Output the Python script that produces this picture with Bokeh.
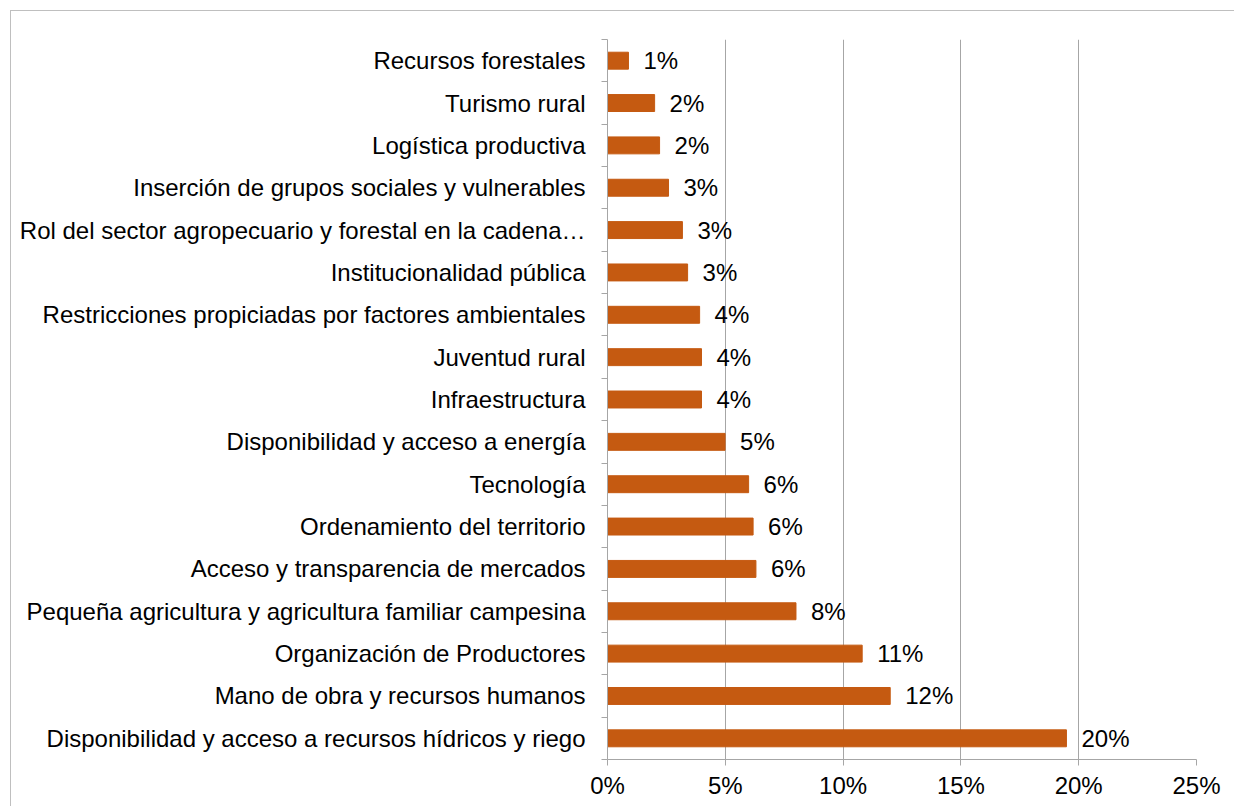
from bokeh.plotting import figure
from bokeh.models import ColumnDataSource, Range1d, FixedTicker, NumeralTickFormatter
from bokeh.core.properties import value
from bokeh.embed import file_html
from bokeh.resources import INLINE

# Data (top to bottom as shown)
categories = [
    "Recursos forestales",
    "Turismo rural",
    "Logística productiva",
    "Inserción de grupos sociales y vulnerables",
    "Rol del sector agropecuario y forestal en la cadena…",
    "Institucionalidad pública",
    "Restricciones propiciadas por factores ambientales",
    "Juventud rural",
    "Infraestructura",
    "Disponibilidad y acceso a energía",
    "Tecnología",
    "Ordenamiento del territorio",
    "Acceso y transparencia de mercados",
    "Pequeña agricultura y agricultura familiar campesina",
    "Organización de Productores",
    "Mano de obra y recursos humanos",
    "Disponibilidad y acceso a recursos hídricos y riego",
]
shares_pct = [0.89, 2.0, 2.21, 2.59, 3.18, 3.4, 3.91, 3.99, 3.99, 4.99,
              5.99, 6.18, 6.3, 8.0, 10.81, 12.0, 19.48]
value_labels = ["1%", "2%", "2%", "3%", "3%", "3%", "4%", "4%", "4%", "5%",
                "6%", "6%", "6%", "8%", "11%", "12%", "20%"]
x_ticks = [0, 0.05, 0.10, 0.15, 0.20, 0.25]

FONT = "Liberation Sans"
BAR = "#C55A11"
GRID = "#A6A6A6"
FS = "24px"

n = len(categories)
ys = [n - i - 0.5 for i in range(n)]
xs = [v / 100.0 for v in shares_pct]
src = ColumnDataSource(dict(y=ys, x=xs, label=value_labels, cat=categories))

p = figure(width=1224, height=796,
           x_range=Range1d(0, 0.25), y_range=Range1d(0, n),
           output_backend="svg", toolbar_location=None,
           min_border_left=596, min_border_top=28,
           min_border_right=39, min_border_bottom=48)
p.styles = {"margin-left": "10px", "margin-top": "10px",
            "border-left": "1px solid #BFBFBF", "border-top": "1px solid #BFBFBF"}
p.outline_line_color = None
p.background_fill_color = "white"
p.border_fill_color = "white"

p.hbar(y="y", right="x", left=0, height=0.4, fill_color=BAR, line_color=BAR, source=src)
p.text(x="x", y="y", text="label", x_offset=15, text_baseline="middle", text_align="left",
       text_font=value(FONT), text_font_size=FS, text_color="#000000", source=src)

# Y axis
yax = p.yaxis[0]
yax.ticker = FixedTicker(ticks=ys, minor_ticks=list(range(n + 1)))
yax.major_label_overrides = {y: c for y, c in zip(ys, categories)}
yax.major_tick_line_color = None
yax.major_tick_out = 0
yax.major_tick_in = 0
yax.minor_tick_line_color = GRID
yax.minor_tick_out = 6
yax.minor_tick_in = 0
yax.axis_line_color = GRID
yax.major_label_standoff = 16
yax.major_label_text_font = FONT
yax.major_label_text_font_size = FS
yax.major_label_text_color = "#000000"
p.ygrid.visible = False

# X axis
xax = p.xaxis[0]
xax.ticker = FixedTicker(ticks=x_ticks)
xax.formatter = NumeralTickFormatter(format="0%")
xax.major_tick_out = 6
xax.major_tick_in = 0
xax.major_tick_line_color = GRID
xax.minor_tick_line_color = None
xax.axis_line_color = GRID
xax.major_label_standoff = 6
xax.major_label_text_font = FONT
xax.major_label_text_font_size = FS
xax.major_label_text_color = "#000000"
p.xgrid.ticker = FixedTicker(ticks=x_ticks)
p.xgrid.grid_line_color = GRID

open("out.html", "w").write(file_html(p, INLINE))
